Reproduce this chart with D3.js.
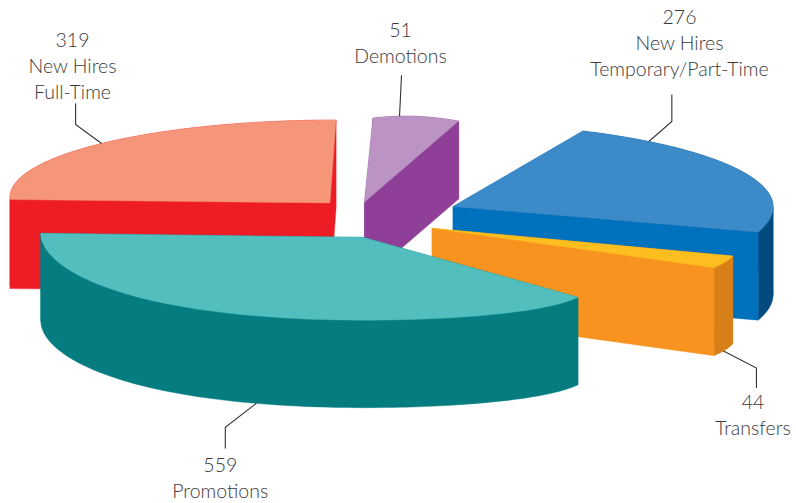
<!DOCTYPE html>
<html>
<head>
<meta charset="utf-8">
<script src="https://cdn.jsdelivr.net/npm/d3@7"></script>
<style>
  html, body { margin: 0; padding: 0; background: #fff; }
  svg { display: block; }
  text { font-family: Lato, "Open Sans", sans-serif; font-weight: 300; font-size: 19.5px; fill: #3a3a3a; text-anchor: middle; }
</style>
</head>
<body>
<svg id="chart" width="796" height="503"></svg>
<script>
// ---- data ----
const categories = ["New Hires Full-Time", "Demotions", "New Hires Temporary/Part-Time", "Transfers", "Promotions"];
const values = [319, 51, 276, 44, 559];
const labelLines = [["319", "New Hires", "Full-Time"], ["51", "Demotions"], ["276", "New Hires", "Temporary/Part-Time"], ["44", "Transfers"], ["559", "Promotions"]];

// ---- colours ----
const topColors = ["#F5967A", "#BB94C4", "#3D8AC9", "#FDBE1F", "#52BEBD"];
const wallColors = ["#EE1C25", "#8F3F98", "#0071BC", "#F9931F", "#047C80"];
const rimColors = ["#EE1C25", "#8F3F98", "#004A80", "#D87F18", "#047C80"];

// ---- hand-fitted perspective of each exploded slice ----
const origins = [[336, 197], [416, 507], [422.5, 209], [432, 228.3], [316.8, 256.3]];
const axesU = [[0, -77], [-43, -389], [160.5, -78], [300.7, 27.7], [261.2, 41]];
const axesV = [[-326, 0], [332, -38], [311.7, 37.9], [-51.4, 56.4], [-89.3, 48.7]];
const apexes = [[330, 203], [364.5, 202], [453, 206.5], [432, 228.3], [363, 237.3]];
const depths = [89, 78, 88, 88, 87.5];
const warpTilt = [0, 0, 0, 0, -6];
const warpBow = [0, 0, 0, 0, 6];

// ---- leader lines and labels ----
const leaderFrac = [0.5, 0.31, 0.163, 0.59, 0.52];
const leaderOnBase = [0, 0, 0, 1, 1];
const leaderElbow = [[-26, -19], [null, null], [23, -20], [33, 17], [-31, 24]];
const leaderEnd = [[-26, -40], [2, -41], [23, -47], [33, 37], [-31, 45]];
const labelX = [72.5, 400.5, 679.5, 753, 220.3];
const labelBaseline = [46.7, 36.7, 24, 409.3, 472.3];
const labelGap = 26;

const svg = d3.select("#chart");
const pie = d3.pie().sort(null).value(d => d);
const arcs = pie(values);
const line = d3.line();

function rim(i, t, s) {
  const [cx, cy] = origins[i], [ux, uy] = axesU[i], [vx, vy] = axesV[i];
  const warp = warpTilt[i] * Math.sin(2 * Math.PI * t / s) + warpBow[i] * Math.sin(Math.PI * t / s);
  return [cx + ux * Math.cos(t) + vx * Math.sin(t), cy + uy * Math.cos(t) + vy * Math.sin(t) + warp];
}
const drop = (p, h) => [p[0], p[1] + h];

// split a rim into runs that keep one horizontal direction, so an extruded band never folds over itself
function monotoneRuns(pts) {
  const runs = [];
  let run = [pts[0]], dir = 0;
  for (let k = 1; k < pts.length; k++) {
    const d = Math.sign(pts[k][0] - pts[k - 1][0]);
    if (dir !== 0 && d !== 0 && d !== dir) { runs.push(run); run = [pts[k - 1]]; }
    if (d !== 0) dir = d;
    run.push(pts[k]);
  }
  runs.push(run);
  return runs;
}

arcs.forEach((a, i) => {
  const s = a.endAngle - a.startAngle;
  const ts = d3.range(0, 121).map(k => s * k / 120);
  const edge = ts.map(t => rim(i, t, s));
  const h = depths[i], apex = apexes[i];
  const g = svg.append("g").attr("class", "slice").attr("data-category", categories[i]);
  const face = (pts, fill) => g.append("path")
    .attr("d", line(pts) + "Z").attr("fill", fill).attr("stroke", fill).attr("stroke-width", 0.4);

  face([apex, edge[0], drop(edge[0], h), drop(apex, h)], wallColors[i]);
  monotoneRuns(edge).forEach(run => face(run.concat(run.slice().reverse().map(p => drop(p, h))), rimColors[i]));
  face([apex, edge[edge.length - 1], drop(edge[edge.length - 1], h), drop(apex, h)], wallColors[i]);
  face([apex].concat(edge), topColors[i]);
});

arcs.forEach((a, i) => {
  const s = a.endAngle - a.startAngle;
  let p = rim(i, s * leaderFrac[i], s);
  if (leaderOnBase[i]) p = drop(p, depths[i]);
  const pts = [p];
  if (leaderElbow[i][0] !== null) pts.push([p[0] + leaderElbow[i][0], p[1] + leaderElbow[i][1]]);
  pts.push([p[0] + leaderEnd[i][0], p[1] + leaderEnd[i][1]]);
  svg.append("path").attr("d", line(pts)).attr("fill", "none").attr("stroke", "#333").attr("stroke-width", 1.1);

  const text = svg.append("text");
  labelLines[i].forEach((l, k) => {
    text.append("tspan").attr("x", labelX[i]).attr("y", labelBaseline[i] + k * labelGap).text(l);
  });
});
</script>
</body>
</html>
